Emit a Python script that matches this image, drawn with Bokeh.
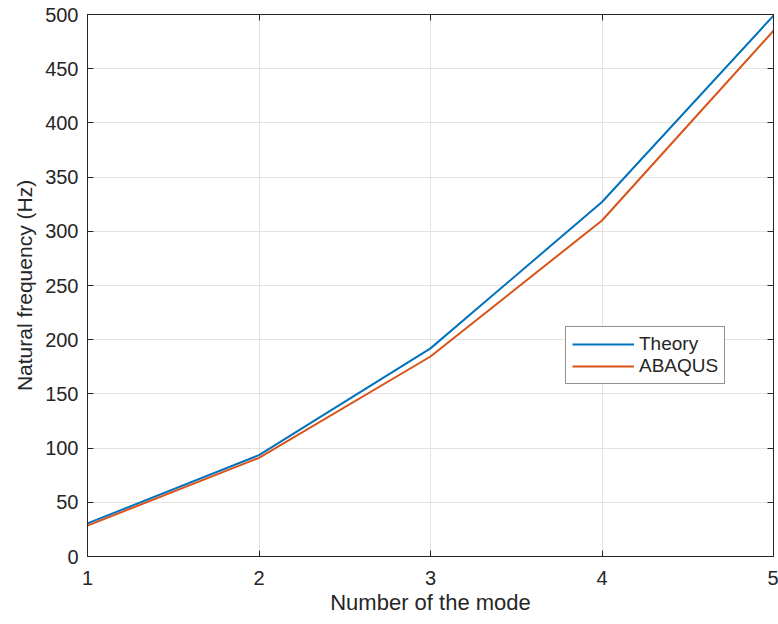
from bokeh.plotting import figure
from bokeh.models import Range1d, LinearAxis, Legend, LegendItem, FixedTicker
from bokeh.embed import file_html
from bokeh.resources import INLINE

modes = [1, 2, 3, 4, 5]
theory = [30.5, 93.5, 192, 327, 499]
abaqus = [28.5, 91, 184.5, 310, 485]
x_ticks = [1, 2, 3, 4, 5]
y_ticks = [0, 50, 100, 150, 200, 250, 300, 350, 400, 450, 500]

FONT = "Liberation Sans"
TXT = "#262626"

p = figure(width=778, height=624, output_backend="svg", toolbar_location=None,
           x_range=Range1d(1, 5), y_range=Range1d(0, 500),
           min_border_left=87, min_border_right=5, min_border_top=14, min_border_bottom=68)
p.outline_line_color = "#262626"
p.outline_line_width = 1

r1 = p.line(modes, theory, line_color="#0072BD", line_width=2)
r2 = p.line(modes, abaqus, line_color="#D95319", line_width=2)

for ax in (p.xaxis[0], p.yaxis[0]):
    ax.major_label_text_font = FONT
    ax.major_label_text_font_size = "20px"
    ax.major_label_text_color = TXT
    ax.axis_label_text_font = FONT
    ax.axis_label_text_font_style = "normal"
    ax.axis_label_text_color = TXT
    ax.axis_line_color = "#262626"
    ax.major_tick_line_color = "#262626"
    ax.major_tick_in = 6
    ax.major_tick_out = 0
    ax.minor_tick_line_color = None

p.xaxis.ticker = FixedTicker(ticks=x_ticks)
p.yaxis.ticker = FixedTicker(ticks=y_ticks)
p.xaxis.axis_label = "Number of the mode"
p.yaxis.axis_label = "Natural frequency (Hz)"
p.xaxis.axis_label_text_font_size = "22px"
p.yaxis.axis_label_text_font_size = "21px"
p.xaxis.major_label_standoff = 14
p.yaxis.major_label_standoff = 9
p.xaxis.axis_label_standoff = 2
p.yaxis.axis_label_standoff = 6

top = LinearAxis(ticker=FixedTicker(ticks=x_ticks), major_label_text_font_size="0px",
                 major_tick_in=6, major_tick_out=0, minor_tick_line_color=None,
                 axis_line_color="#262626", major_tick_line_color="#262626")
right = LinearAxis(ticker=FixedTicker(ticks=y_ticks), major_label_text_font_size="0px",
                   major_tick_in=6, major_tick_out=0, minor_tick_line_color=None,
                   axis_line_color="#262626", major_tick_line_color="#262626")
top.major_label_text_color = None
right.major_label_text_color = None
p.add_layout(top, "above")
p.add_layout(right, "right")

p.xgrid.ticker = FixedTicker(ticks=x_ticks)
p.ygrid.ticker = FixedTicker(ticks=y_ticks)
p.grid.grid_line_color = "#e3e3e3"
p.grid.grid_line_width = 1

legend = Legend(items=[LegendItem(label="Theory", renderers=[r1]),
                       LegendItem(label="ABAQUS", renderers=[r2])],
                location=(478, 172))
legend.label_text_font = FONT
legend.label_text_font_size = "19px"
legend.label_text_color = TXT
legend.border_line_color = "#262626"
legend.border_line_width = 1
legend.padding = 6
legend.spacing = 0
legend.margin = 0
legend.glyph_width = 62
legend.glyph_height = 22
legend.label_height = 22
legend.label_standoff = 5
p.add_layout(legend, "center")

open("out.html", "w").write(file_html(p, INLINE))
